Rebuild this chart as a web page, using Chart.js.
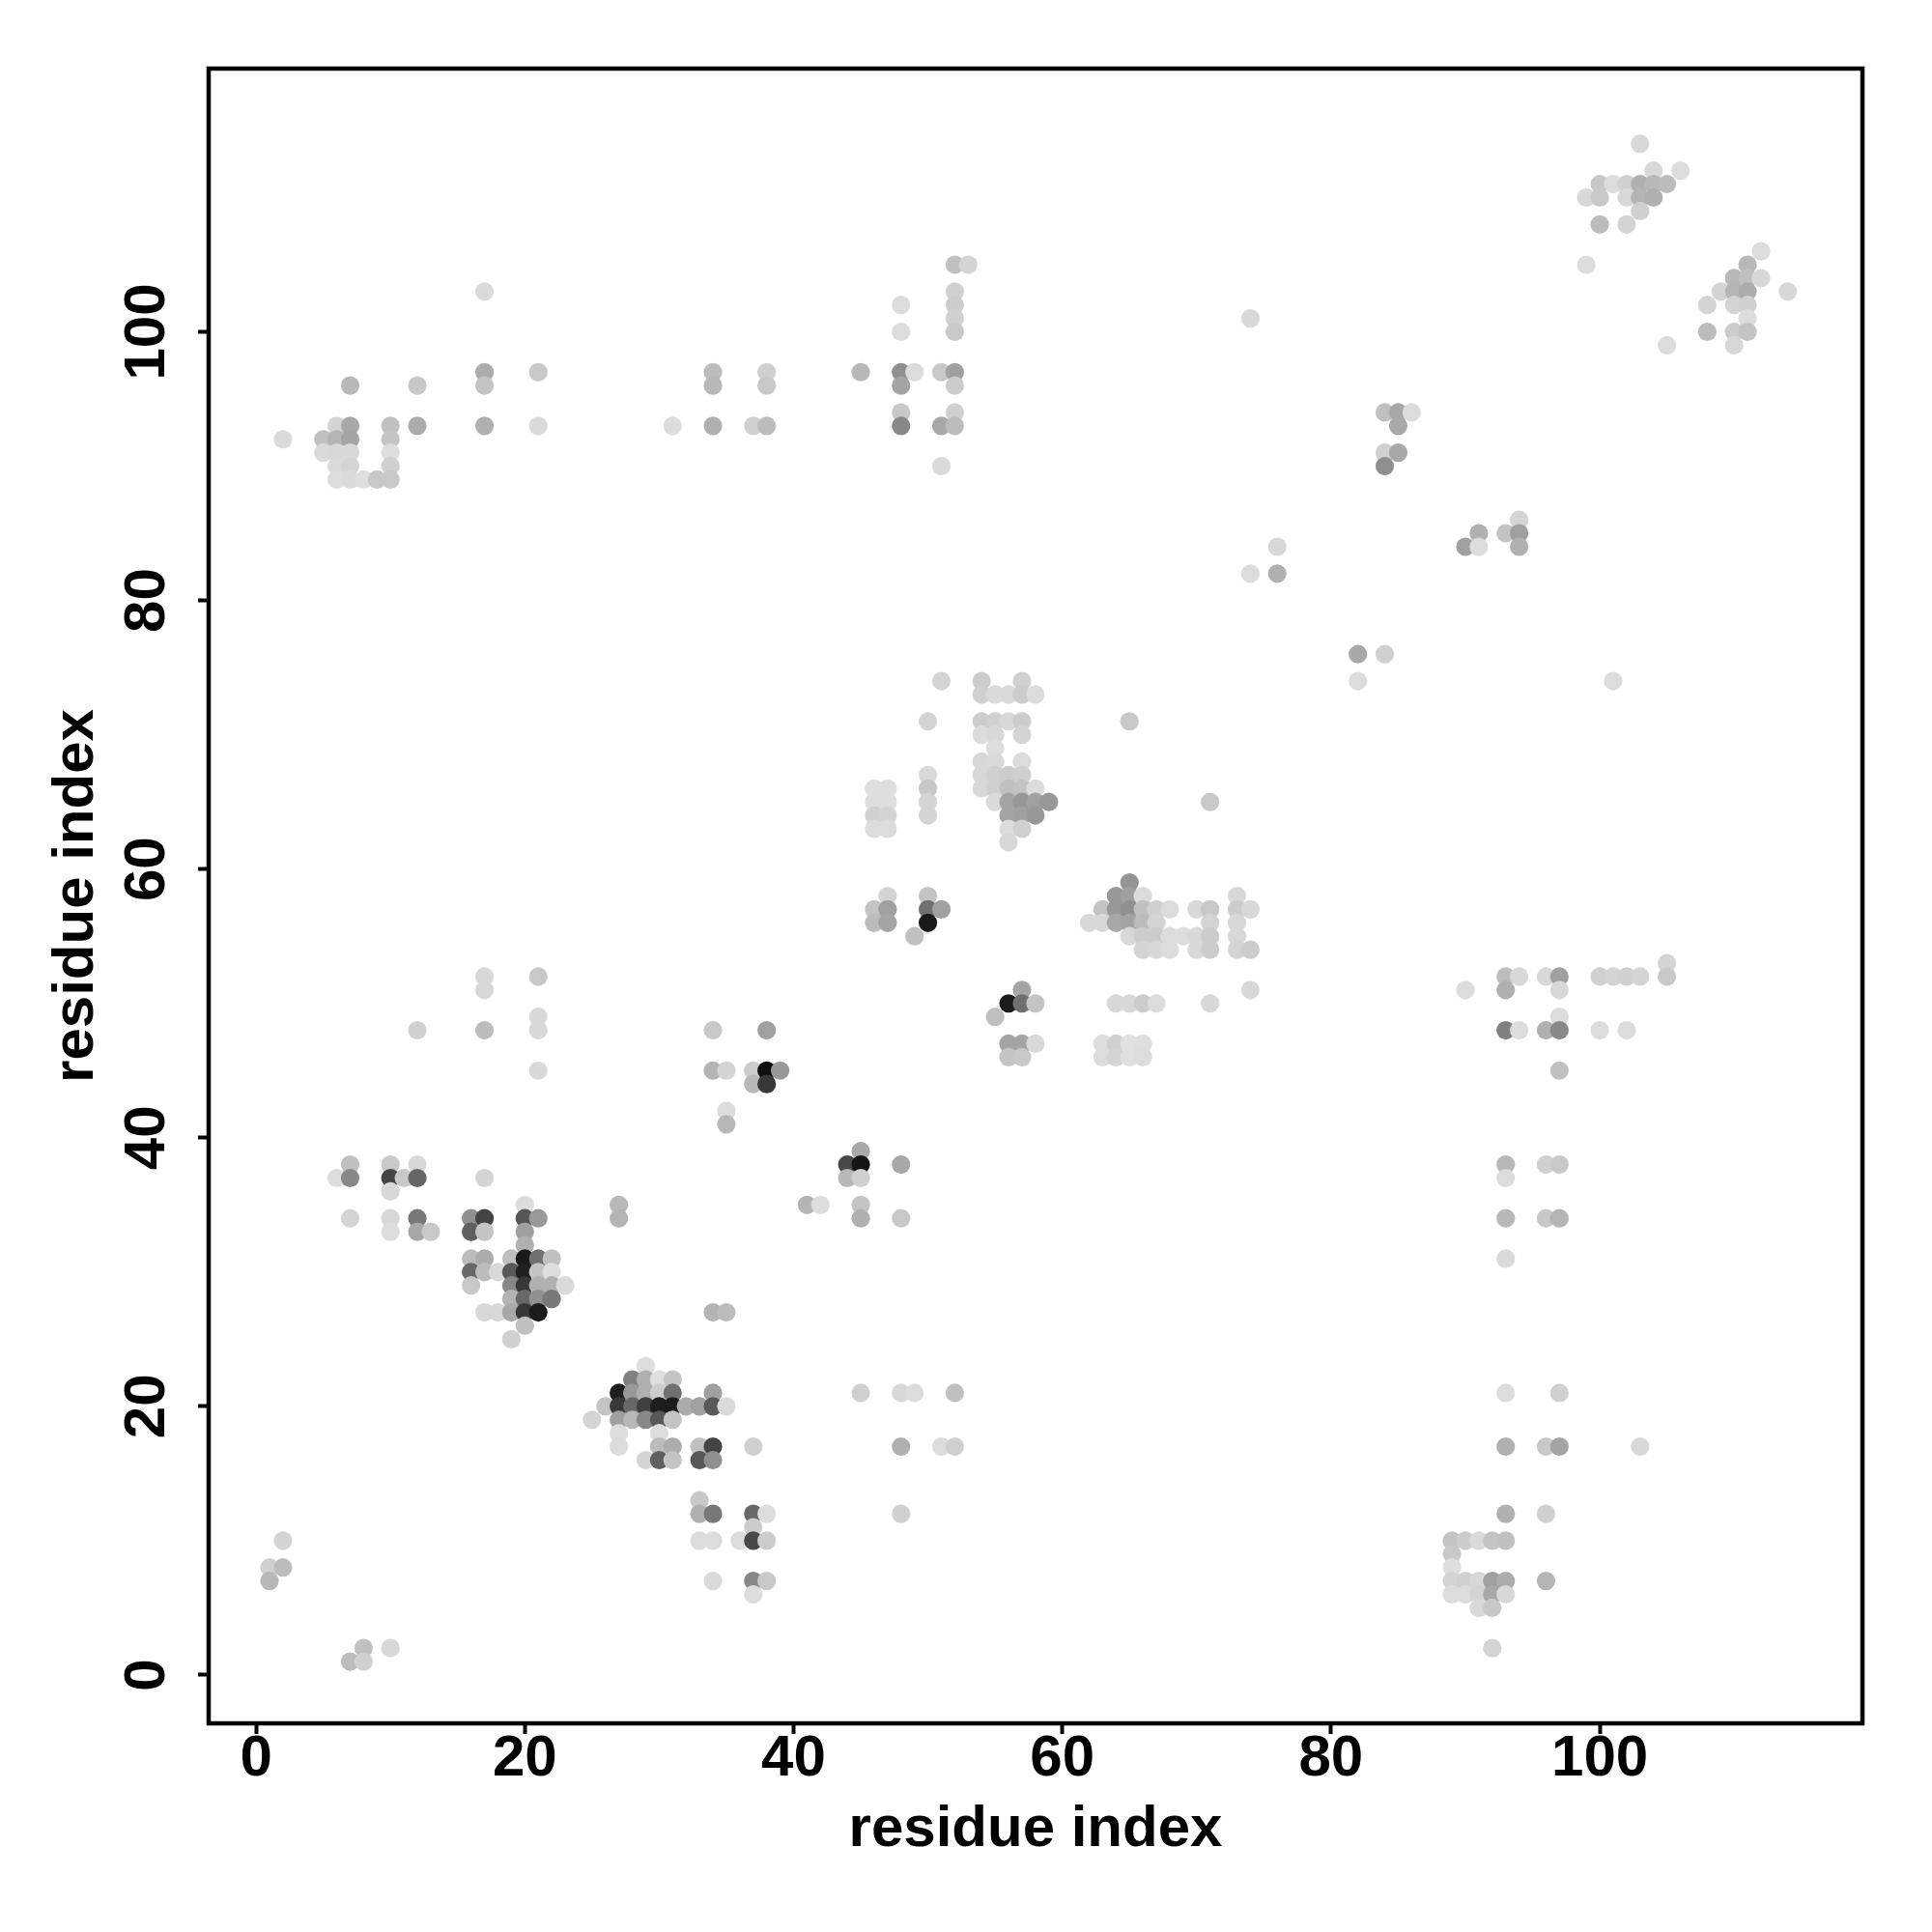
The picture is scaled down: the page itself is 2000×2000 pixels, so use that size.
<!DOCTYPE html>
<html>
<head>
<meta charset="utf-8">
<title>residue contacts</title>
<script src="https://cdn.jsdelivr.net/npm/chart.js@4"></script>
<style>
  html, body { margin: 0; padding: 0; background: #fff; }
  canvas { display: block; }
</style>
</head>
<body>
<canvas id="contactChart" width="2000" height="2000"></canvas>
<script>
const xTickValues = [0, 20, 40, 60, 80, 100];
const yTickValues = [0, 20, 40, 60, 80, 100];
const axisName = 'residue index';

// one entry per residue on the y axis
const rowY = [114, 112, 111, 110, 109, 108, 106, 105, 104, 103, 102, 101, 100, 99, 97, 96, 94, 93, 92, 91, 90, 89, 86, 85, 84, 82, 76, 74, 73, 71, 70, 69, 68, 67, 66, 65, 64, 63, 62, 59, 58, 57, 56, 55, 54, 53, 52, 51, 50, 49, 48, 47, 46, 45, 44, 42, 41, 39, 38, 37, 36, 35, 34, 33, 32, 31, 30, 29, 28, 27, 26, 25, 23, 22, 21, 20, 19, 18, 17, 16, 13, 12, 11, 10, 9, 8, 7, 6, 5, 2, 1];

// residues on the x axis in contact with that row
const rowX = [
  [103],
  [104, 106],
  [100, 101, 102, 103, 104, 105],
  [99, 100, 102, 103, 104],
  [103],
  [100, 102],
  [112],
  [52, 53, 99, 111],
  [110, 111, 112],
  [17, 52, 109, 110, 111, 114],
  [48, 52, 108, 110, 111],
  [52, 74, 111],
  [48, 52, 108, 110, 111],
  [105, 110],
  [17, 21, 34, 38, 45, 48, 49, 51, 52],
  [7, 12, 17, 34, 38, 48, 52],
  [48, 52, 84, 85, 86],
  [6, 7, 10, 12, 17, 21, 31, 34, 37, 38, 48, 51, 52, 85],
  [2, 5, 6, 7, 10],
  [5, 6, 7, 10, 84, 85],
  [6, 7, 10, 51, 84],
  [6, 7, 8, 9, 10],
  [94],
  [91, 93, 94],
  [76, 90, 91, 94],
  [74, 76],
  [82, 84],
  [51, 54, 57, 82, 101],
  [54, 55, 56, 57, 58],
  [50, 54, 55, 56, 57, 65],
  [54, 55, 57],
  [55],
  [54, 55, 57],
  [50, 54, 55, 56, 57],
  [46, 47, 50, 54, 55, 56, 57, 58],
  [46, 47, 50, 55, 56, 57, 58, 59, 71],
  [46, 47, 50, 56, 57, 58],
  [46, 47, 56, 57],
  [56],
  [65],
  [47, 50, 64, 65, 66, 73],
  [46, 47, 50, 51, 63, 64, 65, 66, 67, 68, 70, 71, 73, 74],
  [46, 47, 50, 62, 63, 64, 65, 66, 67, 71, 73],
  [49, 65, 66, 67, 68, 69, 70, 71, 73],
  [66, 67, 68, 70, 71, 73, 74],
  [105],
  [17, 21, 93, 94, 96, 97, 100, 101, 102, 103, 105],
  [17, 57, 74, 90, 93, 97],
  [56, 57, 58, 64, 65, 66, 67, 71],
  [21, 55, 97],
  [12, 17, 21, 34, 38, 93, 94, 96, 97, 100, 102],
  [56, 57, 58, 63, 64, 65, 66],
  [56, 57, 63, 64, 65, 66],
  [21, 34, 35, 37, 38, 39, 97],
  [37, 38],
  [35],
  [35],
  [45],
  [7, 10, 12, 44, 45, 48, 93, 96, 97],
  [6, 7, 10, 11, 12, 17, 44, 45, 93],
  [10],
  [20, 27, 41, 42, 45],
  [7, 10, 12, 16, 17, 20, 21, 27, 45, 48, 93, 96, 97],
  [10, 12, 13, 16, 17, 20],
  [20],
  [16, 17, 19, 20, 21, 22, 93],
  [16, 17, 18, 19, 20, 21, 22],
  [16, 19, 20, 21, 22, 23],
  [19, 20, 21, 22],
  [17, 18, 19, 20, 21, 34, 35],
  [20],
  [19],
  [29],
  [28, 29, 30, 31],
  [27, 28, 29, 30, 31, 34, 45, 48, 49, 52, 93, 97],
  [26, 27, 28, 29, 30, 31, 32, 33, 34, 35],
  [25, 27, 28, 29, 30, 31],
  [27, 30],
  [27, 30, 31, 33, 34, 37, 48, 51, 52, 93, 96, 97, 103],
  [29, 30, 31, 33, 34],
  [33],
  [33, 34, 37, 38, 48, 93, 96],
  [37],
  [2, 33, 34, 36, 37, 38, 89, 90, 91, 92, 93],
  [89],
  [1, 2, 89],
  [1, 34, 37, 38, 89, 90, 91, 92, 93, 96],
  [37, 89, 90, 91, 92, 93],
  [91, 92],
  [8, 10, 92],
  [7, 8]
];

// contact strength of each of those points, 0 = none, 255 = strongest
const rowStrength = [
  [39],
  [39, 35],
  [55, 35, 47, 79, 71, 67],
  [39, 55, 39, 75, 79],
  [47],
  [67, 43],
  [35],
  [63, 43, 35, 71],
  [71, 63, 39],
  [37, 47, 43, 75, 83, 39],
  [35, 51, 43, 43, 47],
  [47, 39, 35],
  [35, 55, 67, 51, 59],
  [35, 39],
  [83, 55, 67, 47, 71, 111, 35, 55, 95],
  [71, 55, 59, 71, 55, 91, 51],
  [55, 47, 63, 87, 35],
  [43, 87, 63, 83, 79, 37, 35, 79, 47, 67, 119, 87, 67, 87],
  [37, 63, 75, 91, 59],
  [37, 39, 39, 33, 47, 87],
  [37, 43, 47, 37, 111],
  [35, 37, 33, 55, 55],
  [43],
  [79, 59, 95],
  [39, 95, 35, 79],
  [35, 79],
  [87, 47],
  [43, 51, 47, 35, 35],
  [47, 37, 37, 51, 35],
  [43, 51, 47, 39, 51, 55],
  [35, 39, 43],
  [33],
  [39, 37, 35],
  [39, 39, 47, 51, 47],
  [33, 33, 55, 39, 47, 63, 59, 35],
  [33, 33, 43, 37, 91, 103, 95, 103, 55],
  [47, 43, 43, 91, 95, 103],
  [35, 35, 35, 47],
  [39],
  [107],
  [43, 59, 103, 95, 35, 39],
  [59, 95, 143, 95, 59, 103, 111, 63, 47, 35, 39, 55, 51, 39],
  [67, 91, 229, 39, 39, 87, 91, 67, 43, 43, 39],
  [63, 39, 51, 51, 35, 35, 39, 51, 39],
  [43, 39, 35, 39, 51, 43, 51],
  [43],
  [39, 55, 67, 39, 39, 95, 47, 43, 47, 43, 55],
  [39, 91, 39, 35, 79, 39],
  [227, 143, 59, 39, 39, 51, 35, 39],
  [39, 63, 35],
  [47, 67, 39, 55, 95, 127, 35, 79, 119, 35, 35],
  [91, 91, 39, 35, 47, 31, 33],
  [59, 55, 35, 43, 31, 35],
  [39, 75, 43, 51, 239, 103, 63],
  [71, 199],
  [35],
  [71],
  [87],
  [63, 55, 39, 183, 235, 87, 71, 47, 55],
  [35, 119, 187, 55, 153, 43, 71, 47, 35],
  [39],
  [34, 71, 75, 34, 59],
  [43, 39, 135, 111, 187, 170, 102, 75, 79, 55, 71, 55, 75],
  [34, 87, 55, 159, 59, 95],
  [79],
  [67, 83, 63, 229, 143, 63, 37],
  [151, 67, 39, 167, 223, 59, 33],
  [55, 119, 199, 79, 79, 37],
  [75, 151, 111, 135],
  [39, 39, 87, 199, 227, 75, 67],
  [63],
  [47],
  [34],
  [127, 79, 33, 59],
  [225, 103, 79, 51, 143, 95, 47, 39, 35, 63, 35, 47],
  [59, 199, 151, 191, 225, 227, 83, 95, 167, 37],
  [43, 95, 71, 119, 167, 59],
  [35, 35],
  [35, 67, 83, 63, 187, 47, 79, 35, 47, 79, 55, 91, 39],
  [43, 159, 59, 167, 111],
  [55],
  [79, 135, 151, 35, 47, 79, 47],
  [51],
  [43, 35, 35, 35, 183, 51, 59, 51, 37, 59, 63],
  [55],
  [47, 67, 33],
  [71, 37, 119, 55, 43, 47, 39, 95, 83, 75],
  [35, 35, 35, 43, 87, 39],
  [39, 55],
  [63, 39, 43],
  [67, 47]
];

// flatten the rows, later x drawn on top like the original
const contacts = [];
rowY.forEach((y, i) => {
  rowX[i].forEach((x, j) => contacts.push({ x: x, y: y, s: rowStrength[i][j] }));
});
contacts.sort((a, b) => a.x - b.x);

function greyOf(s) {
  const g = 255 - s;
  return `rgb(${g},${g},${g})`;
}

// frame around the plot, R box() style
const framePlugin = {
  id: 'frame',
  afterDatasetsDraw(chart) {
    const a = chart.chartArea, ctx = chart.ctx;
    ctx.save();
    ctx.strokeStyle = '#000';
    ctx.lineWidth = 4.5;
    ctx.strokeRect(a.left, a.top, a.right - a.left, a.bottom - a.top);
    ctx.restore();
  }
};

const axisFont = { family: '"Liberation Sans"', size: 60, weight: 'bold', lineHeight: 1 };
const tickGrid = { display: true, drawOnChartArea: false, drawTicks: true, tickLength: 11, tickWidth: 4, tickColor: '#000' };

new Chart(document.getElementById('contactChart'), {
  type: 'scatter',
  data: {
    datasets: [{
      data: contacts.map(c => ({ x: c.x, y: c.y })),
      pointRadius: 9.6,
      pointHoverRadius: 9.6,
      pointBorderWidth: 0,
      pointBackgroundColor: contacts.map(c => greyOf(c.s))
    }]
  },
  options: {
    responsive: false,
    devicePixelRatio: 1,
    animation: false,
    layout: { padding: { top: 71, right: 72, left: 0, bottom: 0 } },
    plugins: { legend: { display: false }, tooltip: { enabled: false } },
    scales: {
      x: {
        type: 'linear',
        min: -3.53,
        max: 119.55,
        grid: tickGrid,
        border: { display: false },
        afterBuildTicks: s => { s.ticks = xTickValues.map(v => ({ value: v })); },
        afterFit: s => { s.height = 216; },
        ticks: { color: '#000', font: axisFont, padding: -4, maxRotation: 0, autoSkip: false },
        title: { display: true, text: axisName, color: '#000', font: axisFont, padding: { top: 0, bottom: 76 } }
      },
      y: {
        type: 'linear',
        min: -3.6,
        max: 119.6,
        grid: tickGrid,
        border: { display: false },
        afterBuildTicks: s => { s.ticks = yTickValues.map(v => ({ value: v })); },
        afterFit: s => { s.width = 216; },
        ticks: { color: '#000', font: axisFont, padding: 1, minRotation: 90, maxRotation: 90, crossAlign: 'center', autoSkip: false },
        title: { display: true, text: axisName, color: '#000', font: axisFont, padding: { top: 49, bottom: 0 } }
      }
    }
  },
  plugins: [framePlugin]
});
</script>
</body>
</html>
